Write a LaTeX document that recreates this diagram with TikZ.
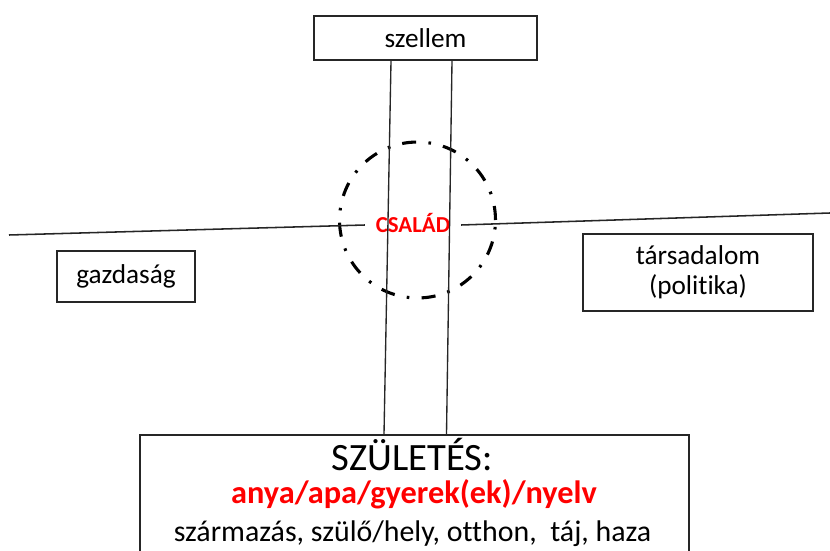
\documentclass[tikz,border=0pt]{standalone}
\usepackage{fontspec}
\setmainfont{Carlito}[Ligatures=NoCommon]
\usetikzlibrary{calc}
\newcommand{\linecolor}{black!85}
\newcommand{\thickness}{0.55pt}

\begin{document}
\begin{tikzpicture}[x=0.02cm,y=-0.02cm,
  box/.style={draw=\linecolor,line width=2*\thickness,inner sep=0pt,align=center,font=\fontsize{15.5}{17}\selectfont},
  vonal/.style={draw=\linecolor,line width=1.6*\thickness}]
\clip (0,0) rectangle (830,550);
\node[box,minimum width=4.46cm,minimum height=0.88cm] (szellem) at (425.5,38) {szellem};
\node[box,minimum width=2.76cm,minimum height=1.02cm] (gazdasag) at (126,276.5) {gazdaság};
\node[box,minimum width=4.6cm,minimum height=1.54cm] (tarsadalom) at (698,272.5) {társadalom\\(politika)};
\node[box,minimum width=10.98cm,minimum height=2.8cm,anchor=north] (szuletes) at (414.5,434) {};
%csalad
\node[circle,draw=black,line width=3.2*\thickness,dash pattern=on 8pt off 7pt on 1.5pt off 7pt,minimum size=3.12cm] (kor) at (417.5,220) {};
\node[text=red,font=\bfseries\fontsize{13}{15}\selectfont,inner xsep=6pt,inner ysep=0pt,text height=8.4pt,text depth=0pt] (csalad) at (413,225) {CSALÁD};
\coordinate (bal) at (9,235);
\coordinate (jobb) at (830,213);
\draw[vonal] (bal) -- (csalad.west);
\draw[vonal] (csalad.east) -- (jobb);
\draw[vonal,line width=1.4*\thickness] ($(szellem.south)+(-34.5,0)$) -- ($(szuletes.north)+(-30.5,0)$);
\draw[vonal,line width=1.4*\thickness] ($(szellem.south)+(26.5,0)$) -- ($(szuletes.north)+(32,0)$);
%szuletes
\node[anchor=base,font=\fontsize{22}{26}\selectfont] (szul) at (412.5,470) {SZÜLETÉS:};
\node[anchor=base,text=red,font=\bfseries\fontsize{18.4}{22}\selectfont] (anya) at (414,503) {anya/apa/gyerek(ek)/nyelv};
\node[anchor=base,font=\fontsize{17}{20}\selectfont] (hely) at (412.5,541) {származás, szülő/hely, otthon,\ \ táj, haza};
\end{tikzpicture}
\end{document}
